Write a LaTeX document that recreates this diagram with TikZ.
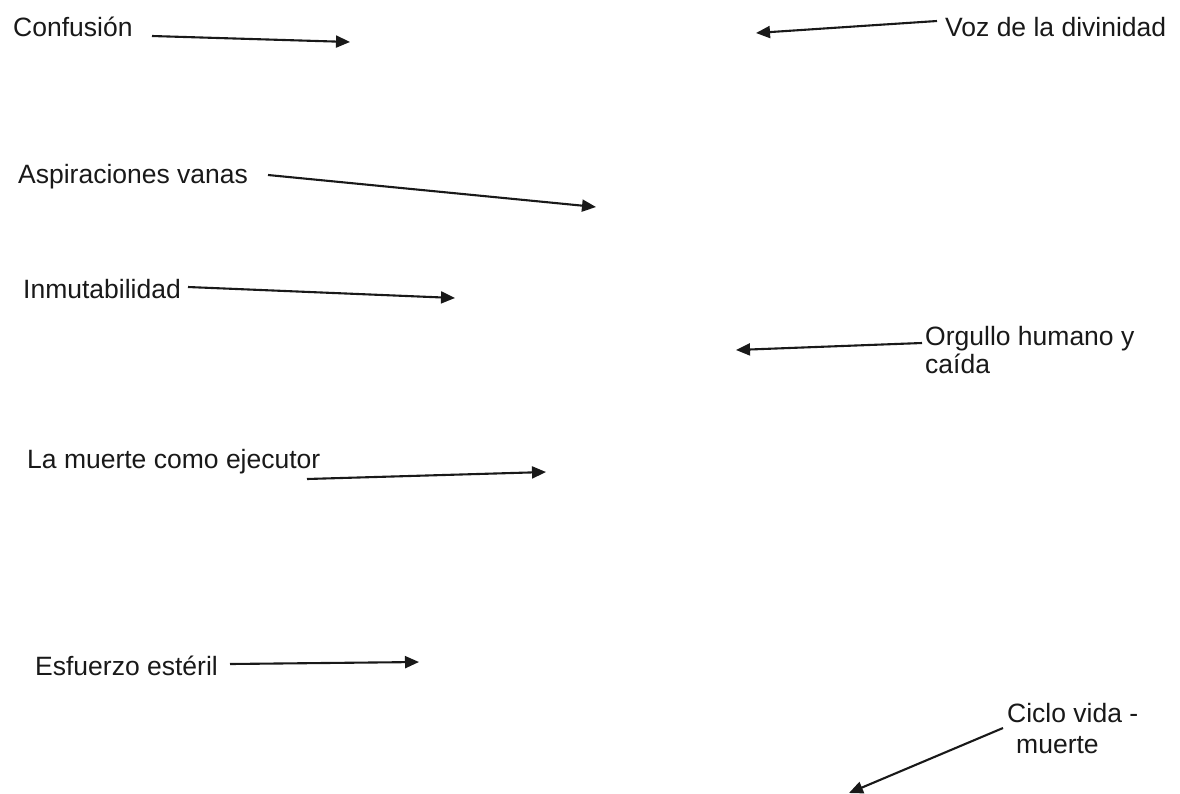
\documentclass[tikz,border=0pt]{standalone}
\usepackage{fontspec}
\setmainfont{Liberation Sans}
\usetikzlibrary{arrows.meta}
\begin{document}
\begin{tikzpicture}[x=1pt,y=-1pt,
  lbl/.style={inner sep=0pt,anchor=base west,font=\fontsize{26.5}{30}\selectfont,text=black!90,align=left},
  arr/.style={line width=2.1pt,black!90,-{Triangle[length=14pt,width=12pt]}}]
\fill[white] (0,0) rectangle (1180,793);
\useasboundingbox (0,0) rectangle (1180,793);

\node[lbl] (conf) at (13,36) {Confusión};
\node[lbl] (voz) at (945,36) {Voz de la divinidad};
\node[lbl] (asp) at (18,183) {Aspiraciones vanas};
\node[lbl] (inm) at (23,298) {Inmutabilidad};
\node[lbl,font=\fontsize{26.5}{28}\selectfont] (org) at (925,373) {Orgullo humano y\\caída};
\node[lbl] (mue) at (27,468) {La muerte como ejecutor};
\node[lbl] (esf) at (35,675) {Esfuerzo estéril};
\node[lbl,font=\fontsize{26.5}{31}\selectfont] (cic) at (1007,753) {Ciclo vida -\\\hspace*{9pt}muerte};

\coordinate (conf-s) at (152,36);  \coordinate (conf-t) at (350,42);
\coordinate (voz-s) at (937,21);   \coordinate (voz-t) at (756,33);
\coordinate (asp-s) at (268,175);  \coordinate (asp-t) at (596,207);
\coordinate (inm-s) at (188,287);  \coordinate (inm-t) at (455,298);
\coordinate (org-s) at (922,343);  \coordinate (org-t) at (736,350);
\coordinate (mue-s) at (307,479);  \coordinate (mue-t) at (546,472);
\coordinate (esf-s) at (230,664);  \coordinate (esf-t) at (419,662);
\coordinate (cic-s) at (1003,728); \coordinate (cic-t) at (849,793);

\draw[arr] (conf-s) -- (conf-t);
\draw[arr] (voz-s) -- (voz-t);
\draw[arr] (asp-s) -- (asp-t);
\draw[arr] (inm-s) -- (inm-t);
\draw[arr] (org-s) -- (org-t);
\draw[arr] (mue-s) -- (mue-t);
\draw[arr] (esf-s) -- (esf-t);
\draw[arr] (cic-s) -- (cic-t);
\end{tikzpicture}
\end{document}
